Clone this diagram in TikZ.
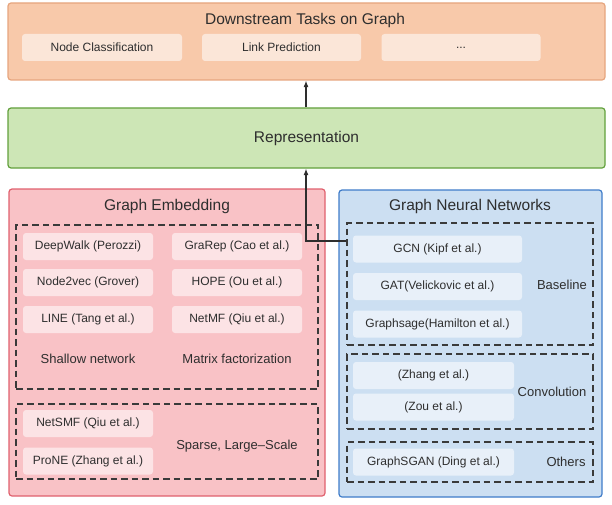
\documentclass[tikz,border=0pt]{standalone}
\usepackage{fontspec}
\setmainfont{Liberation Sans}
\usetikzlibrary{arrows.meta}
\definecolor{orfill}{HTML}{F8C9AA}
\definecolor{orline}{HTML}{E6A57E}
\definecolor{grfill}{HTML}{CDE6B6}
\definecolor{grline}{HTML}{62A03C}
\definecolor{pkfill}{HTML}{F9C2C6}
\definecolor{pkline}{HTML}{E0616E}
\definecolor{blfill}{HTML}{CCDFF2}
\definecolor{blline}{HTML}{3F7CC9}
\definecolor{txt}{HTML}{2E2E2E}
\definecolor{dashc}{HTML}{3A3A3A}
\begin{document}
\begin{tikzpicture}[x=1pt,y=-1pt,
  panel/.style={draw, rounded corners=3pt, line width=1.2pt, inner sep=0pt},
  itembox/.style={fill=white, fill opacity=0.55, text opacity=1, rounded corners=3pt, inner sep=0pt,
    font=\fontsize{12}{14}\selectfont, text=txt, minimum height=27pt},
  dbox/.style={draw=dashc, dash pattern=on 6.5pt off 4pt, line width=1.1pt, inner sep=0pt},
  ttl/.style={font=\fontsize{15.5}{18}\selectfont, text=txt, inner sep=0pt},
  lab/.style={font=\fontsize{13}{15}\selectfont, text=txt, inner sep=0pt},
  arr/.style={draw=txt, line width=1.2pt, -{Latex[length=6.5pt,width=5pt]}}
]
\useasboundingbox (0,0) rectangle (612,505);

% top panel
\node[panel, draw=orline, fill=orfill, minimum width=597pt, minimum height=77pt] (tasks) at (306.5,41.5) {};
\node[ttl] (tasksT) at (305,20) {Downstream Tasks on Graph};
\node[itembox, minimum width=160pt] (nc) at (102,47.5) {Node Classification};
\node[itembox, minimum width=159pt] (lp) at (281.5,47.5) {Link Prediction};
\node[itembox, minimum width=159pt] (etc) at (461,47.5) {...};

% representation
\node[panel, draw=grline, fill=grfill, minimum width=597pt, minimum height=60pt] (rep) at (306.5,138) {};
\node[ttl] (repT) at (306.5,138) {Representation};

% graph embedding
\node[panel, draw=pkline, fill=pkfill, minimum width=316pt, minimum height=307pt] (ge) at (167,342.5) {};
\node[ttl] (geT) at (167,206) {Graph Embedding};
\node[dbox, minimum width=302pt, minimum height=164pt] (shallow) at (167,307) {};
\node[dbox, minimum width=302pt, minimum height=75pt] (sparse) at (167,441.5) {};
\node[itembox, minimum width=130pt] (dw) at (88,246.5) {DeepWalk (Perozzi)};
\node[itembox, minimum width=130pt] (n2v) at (88,282.5) {Node2vec (Grover)};
\node[itembox, minimum width=130pt] (line) at (88,319.5) {LINE (Tang et al.)};
\node[itembox, minimum width=130pt] (grarep) at (237,246.5) {GraRep (Cao et al.)};
\node[itembox, minimum width=130pt] (hope) at (237,282.5) {HOPE (Ou et al.)};
\node[itembox, minimum width=130pt] (netmf) at (237,319.5) {NetMF (Qiu et al.)};
\node[lab] (shallowL) at (88,359) {Shallow network};
\node[lab] (mfL) at (237,359) {Matrix factorization};
\node[itembox, minimum width=130pt] (netsmf) at (88,423.5) {NetSMF (Qiu et al.)};
\node[itembox, minimum width=130pt] (prone) at (88,461) {ProNE (Zhang et al.)};
\node[lab] (sparseL) at (237,446) {Sparse, Large–Scale};

% graph neural networks
\node[panel, draw=blline, fill=blfill, minimum width=263pt, minimum height=307pt] (gnn) at (470.5,343.5) {};
\node[ttl] (gnnT) at (470,206) {Graph Neural Networks};
\node[dbox, minimum width=246pt, minimum height=122pt] (base) at (470,284) {};
\node[dbox, minimum width=246pt, minimum height=75pt] (conv) at (470,391.5) {};
\node[dbox, minimum width=246pt, minimum height=40pt] (oth) at (470,462) {};
\node[itembox, minimum width=169pt] (gcn) at (437.5,249) {GCN (Kipf et al.)};
\node[itembox, minimum width=169pt] (gat) at (437.5,286.5) {GAT(Velickovic et al.)};
\node[itembox, minimum width=169pt] (sage) at (437.5,324) {Graphsage(Hamilton et al.)};
\node[lab] (baseL) at (562,285) {Baseline};
\node[itembox, minimum width=161pt] (zhang) at (433.5,375.5) {(Zhang et al.)};
\node[itembox, minimum width=161pt] (zou) at (433.5,407) {(Zou et al.)};
\node[lab] (convL) at (552,392) {Convolution};
\node[itembox, minimum width=161pt] (sgan) at (433.5,462) {GraphSGAN (Ding et al.)};
\node[lab] (othL) at (566,462) {Others};

% connectors
\coordinate (bend) at (306,241);
\draw[arr] (rep.north -| bend) -- (tasks.south -| bend);
\draw[arr] (base.west |- bend) -- (bend) -- (rep.south -| bend);
\end{tikzpicture}
\end{document}
